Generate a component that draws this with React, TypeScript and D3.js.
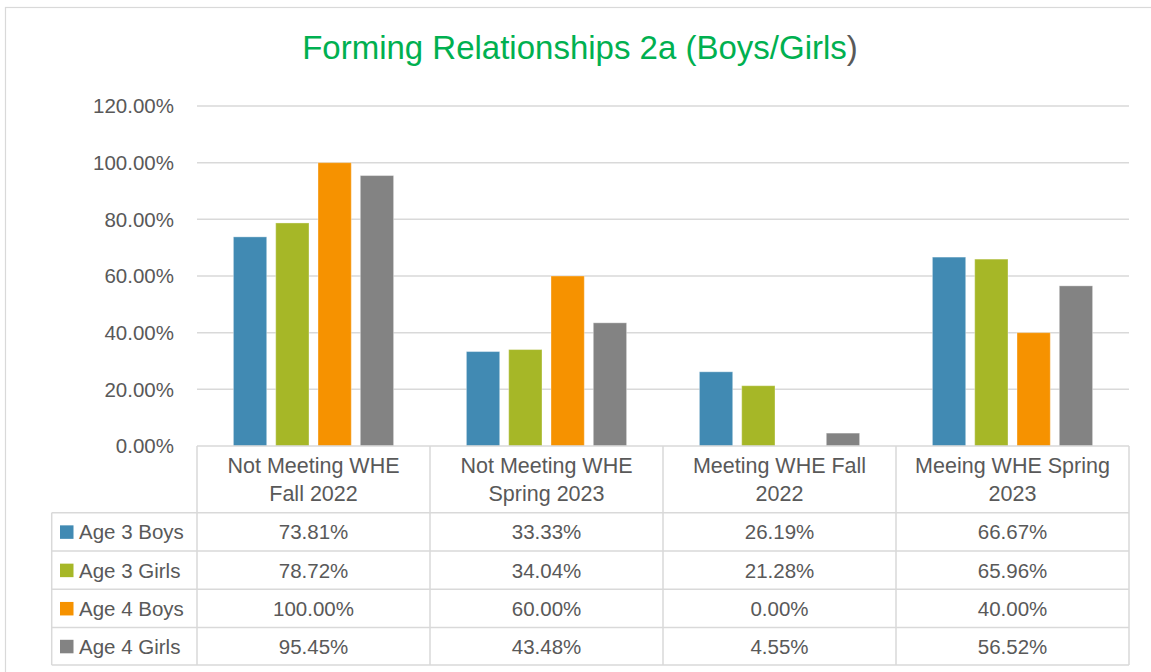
import React from "react";
import * as d3 from "d3";

const categories: string[][] = [
  ["Not Meeting WHE", "Fall 2022"],
  ["Not Meeting WHE", "Spring 2023"],
  ["Meeting WHE Fall", "2022"],
  ["Meeing WHE Spring", "2023"],
];
const seriesNames = ["Age 3 Boys", "Age 3 Girls", "Age 4 Boys", "Age 4 Girls"];
const seriesColors = ["#418AB3", "#A6B727", "#F69200", "#838383"];
const age3Boys = [0.7381, 0.3333, 0.2619, 0.6667];
const age3Girls = [0.7872, 0.3404, 0.2128, 0.6596];
const age4Boys = [1.0, 0.6, 0.0, 0.4];
const age4Girls = [0.9545, 0.4348, 0.0455, 0.5652];
const seriesValues = [age3Boys, age3Girls, age4Boys, age4Girls];
const yTicks = [0, 0.2, 0.4, 0.6, 0.8, 1.0, 1.2];

const W = 1151;
const H = 672;
const plotLeft = 197;
const plotRight = 1129;
const plotTop = 106;
const plotBottom = 446;
const tableLeft = 51.7;
const rowEdges = [512.7, 551, 589.3, 627.6, 665];
const textColor = "#595959";
const gridColor = "#D9D9D9";
const font = "'Liberation Sans', Arial, sans-serif";

export default function App() {
  const x = d3
    .scaleBand<number>()
    .domain(categories.map((_, i) => i))
    .range([plotLeft, plotRight])
    .paddingInner(0)
    .paddingOuter(0);
  const bw = x.bandwidth();
  const clusterPad = (bw - 160.2) / 2;
  const xs = d3
    .scaleBand<number>()
    .domain(seriesNames.map((_, i) => i))
    .range([clusterPad, bw - clusterPad])
    .paddingInner(0.2128)
    .paddingOuter(0);
  const y = d3.scaleLinear().domain([0, 1.2]).range([plotBottom, plotTop]);
  const fmt = d3.format(".2%");

  return (
    <div style={{ position: "absolute", left: 0, top: 0, width: W, height: H, overflow: "hidden", background: "#fff" }}>
      <svg width={W} height={H} style={{ display: "block" }} fontFamily={font}>
        <rect x={0} y={0} width={W} height={H} fill="#fff" />
        <rect x={5.5} y={7.5} width={1200} height={700} fill="#fff" stroke={gridColor} strokeWidth={1.2} />
        {/* title */}
        <text x={580} y={59} textAnchor="middle" fontSize={33} fill="#00B050">
          Forming Relationships 2a (Boys/Girls<tspan fill={textColor}>)</tspan>
        </text>
        {/* gridlines and y tick labels */}
        {yTicks.map((t) => (
          <g key={t}>
            {t > 0 && (
              <line x1={plotLeft} x2={plotRight} y1={y(t)} y2={y(t)} stroke={gridColor} strokeWidth={1.5} />
            )}
            <text x={174} y={y(t)} dy="0.36em" textAnchor="end" fontSize={20.5} fill={textColor}>
              {fmt(t)}
            </text>
          </g>
        ))}
        {/* bars */}
        {categories.map((_, ci) => (
          <g key={ci} transform={`translate(${x(ci)},0)`}>
            {seriesValues.map((vals, si) => {
              const v = vals[ci];
              if (v <= 0) return null;
              return (
                <rect
                  key={si}
                  x={xs(si)}
                  y={y(v)}
                  width={xs.bandwidth()}
                  height={plotBottom - y(v)}
                  fill={seriesColors[si]}
                  stroke="#ffffff"
                  strokeOpacity={0.35}
                  strokeWidth={1}
                />
              );
            })}
          </g>
        ))}
        {/* table lines */}
        <g stroke={gridColor} strokeWidth={1.5} fill="none">
          <line x1={plotLeft} x2={plotRight} y1={plotBottom} y2={plotBottom} />
          {rowEdges.map((ry, i) => (
            <line key={i} x1={tableLeft} x2={plotRight} y1={ry} y2={ry} />
          ))}
          <line x1={tableLeft} x2={tableLeft} y1={rowEdges[0]} y2={rowEdges[rowEdges.length - 1]} />
          {categories.map((_, ci) => (
            <line key={ci} x1={x(ci)} x2={x(ci)} y1={plotBottom} y2={rowEdges[rowEdges.length - 1]} />
          ))}
          <line x1={plotRight} x2={plotRight} y1={plotBottom} y2={rowEdges[rowEdges.length - 1]} />
        </g>
        {/* category labels */}
        {categories.map((lines, ci) => (
          <text key={ci} textAnchor="middle" fontSize={21.5} fill={textColor}>
            {lines.map((ln, li) => (
              <tspan key={li} x={(x(ci) as number) + bw / 2} y={473 + li * 27.5}>
                {ln}
              </tspan>
            ))}
          </text>
        ))}
        {/* legend column + values */}
        {seriesNames.map((name, si) => {
          const cy = (rowEdges[si] + rowEdges[si + 1]) / 2;
          return (
            <g key={si}>
              <rect x={60} y={cy - 6.5} width={13.5} height={13.5} fill={seriesColors[si]} />
              <text x={79} y={cy} dy="0.36em" fontSize={20.5} fill={textColor}>
                {name}
              </text>
              {categories.map((_, ci) => (
                <text
                  key={ci}
                  x={(x(ci) as number) + bw / 2}
                  y={cy}
                  dy="0.36em"
                  textAnchor="middle"
                  fontSize={20.5}
                  fill={textColor}
                >
                  {fmt(seriesValues[si][ci])}
                </text>
              ))}
            </g>
          );
        })}
      </svg>
    </div>
  );
}
